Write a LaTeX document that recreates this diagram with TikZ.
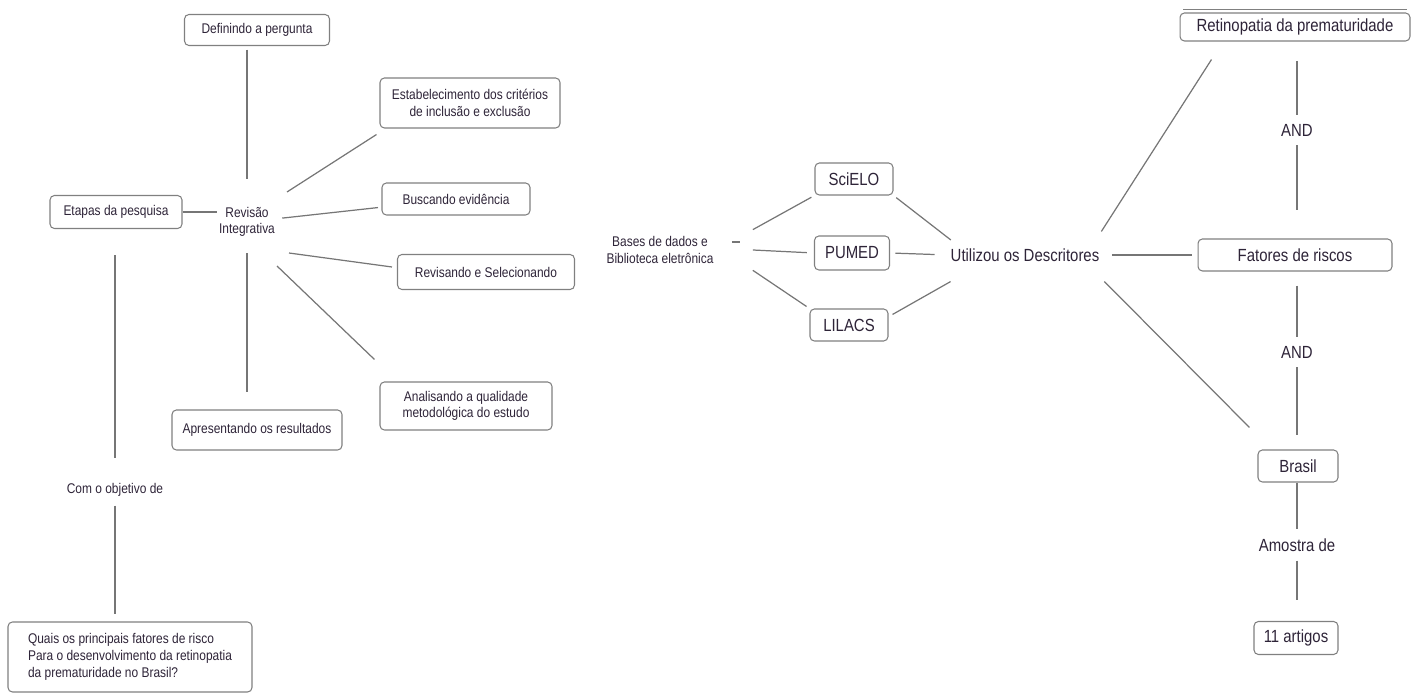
\documentclass[tikz,border=0pt]{standalone}
\usepackage{fontspec}
\setmainfont{Liberation Sans}[FakeStretch=0.85]
\usetikzlibrary{positioning}

\definecolor{inkc}{HTML}{2E2438}
\definecolor{edgec}{HTML}{767676}
\definecolor{framec}{HTML}{808080}

\begin{document}
\begin{tikzpicture}[x=0.02cm,y=-0.02cm,
    box/.style={draw=framec,rounded corners=2.5pt,fill=white,text=inkc,font=\footnotesize,inner sep=2pt,align=center,line width=0.6pt},
    bigbox/.style={box,font=\normalsize},
    lbl/.style={text=inkc,font=\footnotesize,align=center,inner sep=1pt},
    biglbl/.style={lbl,font=\normalsize},
    link/.style={draw=edgec,line width=0.7pt},
]
    \useasboundingbox (0,0) rectangle (1421,695);

    %%%
    % Etapas da revisao
    \node[lbl] (rev) at (247,222) {Revisão\\Integrativa};
    \node[box,minimum width=2.9cm,minimum height=0.62cm] (perg) at (257,30) {Definindo a pergunta};
    \node[box,minimum width=3.6cm,minimum height=1.0cm] (crit) at (470,103) {Estabelecimento dos critérios\\de inclusão e exclusão};
    \node[box,minimum width=2.64cm,minimum height=0.66cm] (etapas) at (116,212) {Etapas da pesquisa};
    \node[box,minimum width=2.96cm,minimum height=0.64cm] (busca) at (456,199) {Buscando evidência};
    \node[box,minimum width=3.54cm,minimum height=0.7cm] (selec) at (486,272) {Revisando e Selecionando};
    \node[box,minimum width=3.44cm,minimum height=0.96cm] (quali) at (466,406) {Analisando a qualidade\\metodológica do estudo};
    \node[box,minimum width=3.4cm,minimum height=0.8cm] (result) at (257,430) {Apresentando os resultados};
    \node[lbl] (obj) at (115,490) {Com o objetivo de};
    \node[box,minimum width=4.88cm,minimum height=1.4cm,align=left] (quest) at (130,657)
        {Quais os principais fatores de risco\\Para o desenvolvimento da retinopatia\\da prematuridade no Brasil?};

    \draw[link,shorten <=2pt,shorten >=15pt] (perg.south -| rev.north) -- (rev.north);
    \draw[link] (etapas.east) -- (etapas.east -| rev.west);
    \draw[link] ([shift={(10,-13)}]rev.north east) -- ([shift={(-3,6)}]crit.south west);
    \draw[link,shorten <=3pt,shorten >=2pt] (rev) -- (busca);
    \draw[link] ([shift={(12,14)}]rev.south east) -- ([shift={(-5,-5)}]selec.west);
    \draw[link] ([shift={(0,27)}]rev.south east) -- ([shift={(-5,-22)}]quali.north west);
    \draw[link,shorten <=8pt,shorten >=10pt] (rev.south) -- (rev.south |- result.north);
    \draw[link,shorten <=15pt,shorten >=13pt] (etapas.south -| obj.north) -- (obj.north);
    \draw[link,shorten <=4pt,shorten >=4pt] (obj.south) -- (obj.south |- quest.north);

    %%%
    % Bases de dados
    \node[lbl,minimum width=3.7cm,minimum height=0.8cm] (bases) at (660,250) {Bases de dados e\\Biblioteca eletrônica};
    \node[box,font=\normalsize,minimum width=1.56cm,minimum height=0.64cm] (scielo) at (854,179) {SciELO};
    \node[box,font=\normalsize,minimum width=1.5cm,minimum height=0.68cm] (pumed) at (852,253) {PUMED};
    \node[box,font=\normalsize,minimum width=1.56cm,minimum height=0.64cm] (lilacs) at (849,325) {LILACS};
    \node[biglbl] (descr) at (1025,255) {Utilizou os Descritores};

    \draw[link] ([xshift=-12pt,yshift=-7pt]bases.north east) -- ++(8,0);
    \draw[link,shorten >=2pt] (bases.north east) -- (scielo.south west);
    \draw[link,shorten >=4pt] (bases.east) -- (pumed.west);
    \draw[link,shorten >=2pt] (bases.south east) -- (lilacs.north west);
    \draw[link,shorten <=2pt,shorten >=6pt] (scielo.south east) -- ([xshift=6pt]descr.north west);
    \draw[link,shorten <=3pt,shorten >=8pt] (pumed.east) -- (descr.west);
    \draw[link] ([shift={(4,6)}]lilacs.north east) -- ([shift={(2,18)}]descr.south west);

    %%%
    % Descritores
    \node[bigbox,minimum width=4.6cm,minimum height=0.56cm] (rop) at (1295,27) {Retinopatia da prematuridade};
    \node[biglbl] (and1) at (1297,130) {AND};
    \node[bigbox,minimum width=3.88cm,minimum height=0.64cm] (fator) at (1295,255) {Fatores de riscos};
    \node[biglbl] (and2) at (1297,352) {AND};
    \node[bigbox,minimum width=1.6cm,minimum height=0.64cm] (brasil) at (1298,466) {Brasil};
    \node[biglbl] (amostra) at (1297,545) {Amostra de};
    \node[bigbox,minimum width=1.68cm,minimum height=0.66cm] (artigos) at (1296,638) {11 artigos};
    \draw[framec,line width=0.6pt] ([xshift=2pt,yshift=1.6pt]rop.north west) -- ([xshift=-2pt,yshift=1.6pt]rop.north east);

    \draw[link] ([shift={(0,-15)}]descr.north east) -- ([shift={(32,18)}]rop.south west);
    \draw[link,shorten <=6pt,shorten >=3pt] (descr.east) -- (fator.west);
    \draw[link] ([shift={(3,18)}]descr.south east) -- ([shift={(-8,-22)}]brasil.north west);
    \draw[link,shorten <=11pt,shorten >=4pt] (rop.south -| and1.north) -- (and1.north);
    \draw[link,shorten <=4pt,shorten >=16pt] (and1.south) -- (and1.south |- fator.north);
    \draw[link,shorten <=8pt,shorten >=4pt] (fator.south -| and2.north) -- (and2.north);
    \draw[link,shorten <=4pt,shorten >=8pt] (and2.south) -- (and2.south |- brasil.north);
    \draw[link,shorten >=4pt] (brasil.south -| amostra.north) -- (amostra.north);
    \draw[link,shorten <=4pt,shorten >=12pt] (amostra.south) -- (amostra.south |- artigos.north);

\end{tikzpicture}
\end{document}
